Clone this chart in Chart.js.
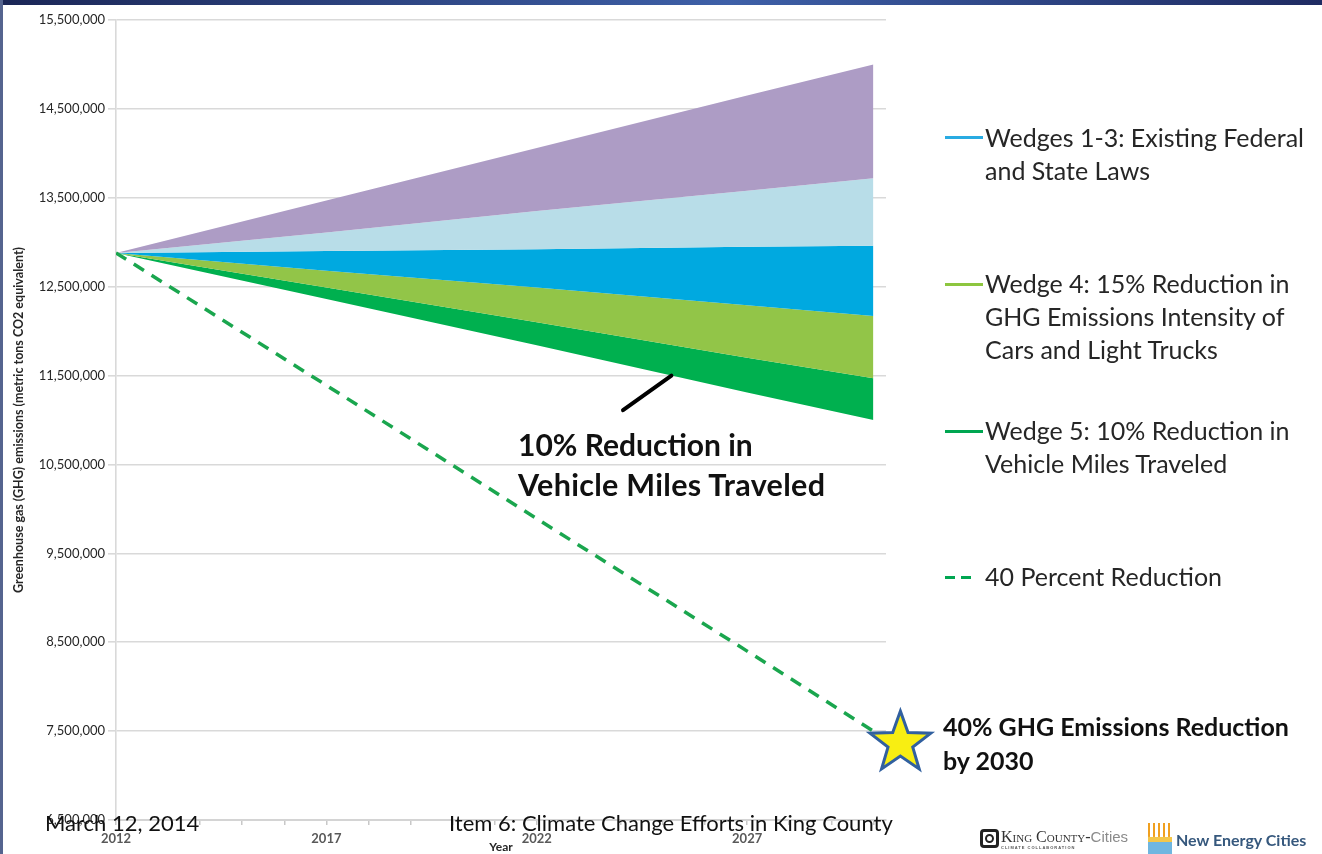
<!DOCTYPE html>
<html>
<head>
<meta charset="utf-8">
<title>GHG wedges</title>
<script src="https://cdn.jsdelivr.net/npm/chart.js@4.4.0/dist/chart.umd.min.js"></script>
<style>
  html, body { margin: 0; padding: 0; background: #fff; }
  body { width: 1322px; height: 854px; position: relative; overflow: hidden; font-family: 'Lato', sans-serif; color: #1e1e1e; }
  #topbar { position: absolute; left: 0; top: 0; width: 1322px; height: 5px; background: linear-gradient(90deg, #1b2656, #3e60a8 55%, #1f2b62); }
  #leftbar { position: absolute; left: 0; top: 0; width: 3px; height: 854px; background: #55648f; }
  #wrap { position: absolute; left: 0; top: 0; width: 1322px; height: 854px; }
  .txt { position: absolute; white-space: nowrap; }
  .legend { left: 985px; font-size: 25px; line-height: 33px; color: #262626; }
  .key { position: absolute; left: 945px; width: 38px; height: 0; border-top: 3px solid; }
  .bold { font-weight: 700; }
  .note { left: 518px; font-size: 30px; line-height: 40px; }
  .foot { font-size: 22px; line-height: 28px; color: #111; }
  .logo1 { left: 1001px; top: 828px; font-family: 'Liberation Serif', serif; font-size: 16px; font-variant: small-caps; color: #333; }
  .logo1 span.c { color: #8a8a8a; font-variant: normal; font-family: 'Liberation Sans', sans-serif; font-size: 15px; }
  .logo1 small { position: absolute; left: 0; top: 17px; font-size: 4px; letter-spacing: 1px; font-family: 'Liberation Sans', sans-serif; font-weight: 700; color: #555; font-variant: normal; }
  .ring { position: absolute; left: 980px; top: 829px; width: 13px; height: 13px; border: 3px solid #222; border-radius: 4px; }
  .ring::after { content: ''; position: absolute; left: 2px; top: 2px; width: 5px; height: 5px; border: 2px solid #222; border-radius: 50%; }
  .logo2 { left: 1176px; top: 830px; font-size: 16px; font-weight: 700; color: #36587d; }
  .sun { position: absolute; left: 1148px; top: 823px; width: 24px; height: 31px;
         background: repeating-linear-gradient(90deg, #f0a020 0 2px, transparent 2px 5px) top / 100% 45% no-repeat,
                     linear-gradient(180deg, #ffffff 0 45%, #f3c64a 45% 60%, #6fb6e0 60% 100%); }
</style>
</head>
<body>
<div id="wrap"><canvas id="chart"></canvas></div>
<div id="topbar"></div>
<div id="leftbar"></div>

<div class="key" style="top:136px;border-color:#29abe2"></div>
<div class="txt legend" style="top:121px">Wedges 1-3: Existing Federal<br>and State Laws</div>

<div class="key" style="top:283px;border-color:#8dc63f"></div>
<div class="txt legend" style="top:267px">Wedge 4: 15% Reduction in<br>GHG Emissions Intensity of<br>Cars and Light Trucks</div>

<div class="key" style="top:430px;border-color:#00a651"></div>
<div class="txt legend" style="top:414px">Wedge 5: 10% Reduction in<br>Vehicle Miles Traveled</div>

<div class="key" style="top:576px;width:10px;border-color:#00a651"></div>
<div class="key" style="top:576px;left:961px;width:10px;border-color:#00a651"></div>
<div class="txt legend" style="top:560px">40 Percent Reduction</div>

<div class="txt legend bold" style="left:943px;top:709px;line-height:34px;color:#111">40% GHG Emissions Reduction<br>by 2030</div>

<div class="txt note bold" style="top:424px;color:#111"><span>10% Reduction in</span><br><span style="font-size:30.5px;letter-spacing:0.3px">Vehicle Miles Traveled</span></div>

<div class="txt foot" style="left:45px;top:809px">March 12, 2014</div>
<div class="txt foot" style="left:449px;top:809px">Item 6: Climate Change Efforts in King County</div>

<div class="ring"></div>
<div class="txt logo1">King County-<span class="c">Cities</span><small>CLIMATE COLLABORATION</small></div>
<div class="sun"></div>
<div class="txt logo2">New Energy Cities</div>

<script>
  // values (metric tons CO2e)
  const years = [2012, 2017, 2022, 2027, 2030];
  const edgeBAU = [12880000, 13470000, 14060000, 14650000, 15000000];
  const edgeW1 = [12880000, 13110000, 13350000, 13580000, 13720000];
  const edgeW2 = [12880000, 12900000, 12920000, 12950000, 12960000];
  const edgeW3 = [12880000, 12680000, 12490000, 12290000, 12170000];
  const edgeW4 = [12880000, 12490000, 12100000, 11700000, 11470000];
  const edgeW5 = [12880000, 12360000, 11840000, 11310000, 11000000];
  const target40 = [12880000, 11390000, 9890000, 8400000, 7500000];

  const yTicks = [6500000, 7500000, 8500000, 9500000, 10500000, 11500000, 12500000, 13500000, 14500000, 15500000];
  const xLabels = [2012, 2017, 2022, 2027];

  const goal = { year: 2030, value: 7500000 };
  const pointer = { from: [2024.05, 11110000], to: [2025.2, 11500000] };

  const pts = arr => arr.map((v, i) => ({ x: years[i], y: v }));

  function band(data, color, fill) {
    return {
      data: pts(data),
      borderWidth: 0,
      borderColor: color,
      backgroundColor: color,
      pointRadius: 0,
      fill: fill,
      order: 2
    };
  }

  const extras = {
    id: 'extras',
    afterDatasetsDraw(chart) {
      const { ctx, scales: { x, y } } = chart;
      // pointer line to the VMT wedge
      ctx.save();
      ctx.strokeStyle = '#000';
      ctx.lineWidth = 4;
      ctx.lineCap = 'round';
      ctx.beginPath();
      ctx.moveTo(x.getPixelForValue(pointer.from[0]), y.getPixelForValue(pointer.from[1]));
      ctx.lineTo(x.getPixelForValue(pointer.to[0]), y.getPixelForValue(pointer.to[1]));
      ctx.stroke();

      // star at the 2030 goal
      const cx = x.getPixelForValue(goal.year) + 27;
      const cy = y.getPixelForValue(goal.value) + 12;
      const R = 32, r = 13;
      ctx.beginPath();
      for (let i = 0; i < 10; i++) {
        const a = -Math.PI / 2 + i * Math.PI / 5;
        const rad = i % 2 ? r : R;
        ctx.lineTo(cx + rad * Math.cos(a), cy + rad * Math.sin(a));
      }
      ctx.closePath();
      ctx.fillStyle = '#f8ee12';
      ctx.fill();
      ctx.lineWidth = 3;
      ctx.lineJoin = 'miter';
      ctx.strokeStyle = '#31609f';
      ctx.stroke();
      ctx.restore();
    }
  };

  new Chart(document.getElementById('chart'), {
    type: 'line',
    data: {
      datasets: [
        band(edgeBAU, '#ad9cc5', '+1'),
        band(edgeW1, '#b8dde8', '+1'),
        band(edgeW2, '#00a9e0', '+1'),
        band(edgeW3, '#92c548', '+1'),
        band(edgeW4, '#00b04f', '+1'),
        band(edgeW5, '#00b04f', false),
        {
          data: pts(target40),
          borderColor: '#1aa64e',
          borderWidth: 3.5,
          borderDash: [12, 9],
          pointRadius: 0,
          fill: false,
          order: 1
        }
      ]
    },
    options: {
      responsive: true,
      maintainAspectRatio: false,
      animation: false,
      layout: { padding: { left: 0, top: 20, right: 436, bottom: 0 } },
      plugins: { legend: { display: false }, tooltip: { enabled: false } },
      scales: {
        x: {
          type: 'linear',
          min: 2012,
          max: 2030.3,
          afterFit(s) { s.height = 34; },
          grid: { drawOnChartArea: false, drawTicks: true, tickLength: 5, color: '#c8c8c8', lineWidth: 1.5 },
          border: { color: '#d4d4d4', width: 2 },
          ticks: {
            stepSize: 1,
            includeBounds: false,
            autoSkip: false,
            maxRotation: 0,
            padding: 6,
            color: '#595959',
            font: { family: 'Lato', size: 13, weight: 'bold' },
            callback: v => xLabels.includes(v) ? String(v) : ''
          },
          title: {
            display: true,
            text: 'Year',
            color: '#262626',
            font: { family: 'Lato', size: 12, weight: 'bold' },
            padding: { top: -7, bottom: 0 }
          }
        },
        y: {
          min: 6500000,
          max: 15500000,
          afterFit(s) { s.width = 116; },
          afterBuildTicks(s) { s.ticks = yTicks.map(v => ({ value: v })); },
          grid: { color: '#d9d9d9', lineWidth: 1.6, tickLength: 8 },
          border: { color: '#d9d9d9', width: 1.6 },
          ticks: {
            color: '#262626',
            padding: 3,
            font: { family: 'Lato', size: 13 },
            callback: v => v.toLocaleString('en-US')
          },
          title: {
            display: true,
            text: 'Greenhouse gas (GHG) emissions (metric tons CO2 equivalent)',
            color: '#262626',
            font: { family: 'Lato', size: 12.5, weight: 'bold' },
            padding: { top: 11, bottom: 0 }
          }
        }
      }
    },
    plugins: [extras]
  });
</script>
</body>
</html>
